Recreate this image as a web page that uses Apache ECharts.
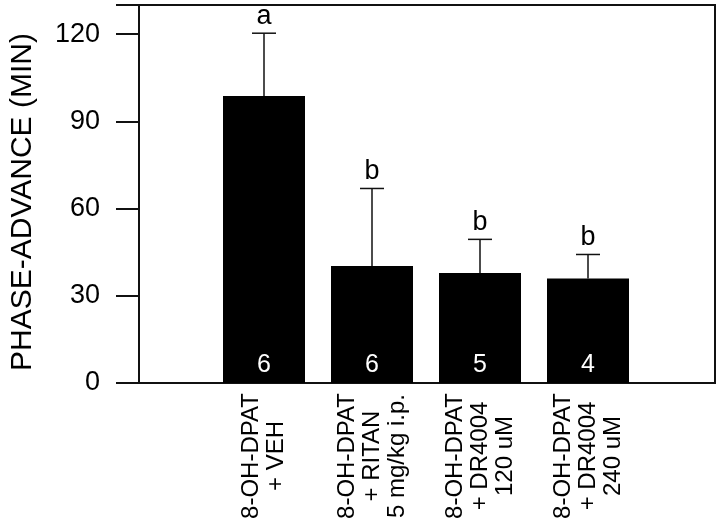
<!DOCTYPE html>
<html>
<head>
<meta charset="utf-8">
<script src="https://cdn.jsdelivr.net/npm/echarts@6/dist/echarts.min.js"></script>
<style>
    html, body {margin: 0; padding: 0; background: #fff;}
    #chart_1 {width: 720px; height: 525px;}
</style>
</head>
<body>
<div id="chart_1"></div>
<script>
var groups = [
    '8-OH-DPAT\n+ VEH',
    '8-OH-DPAT\n+ RITAN\n5 mg/kg i.p.',
    '8-OH-DPAT\n+ DR4004\n120 uM',
    '8-OH-DPAT\n+ DR4004\n240 uM'
];
var means = [98.7, 40.2, 37.8, 35.9];
var errs = [21.6, 26.7, 11.6, 8.3];
var letters = ['a', 'b', 'b', 'b'];
var nCounts = [6, 6, 5, 4];
var yTicks = [0, 30, 60, 90, 120];

var font = 'Liberation Sans, Arial, Helvetica, sans-serif';
var ink = '#000';

var myChart = echarts.init(document.getElementById('chart_1'));
var option = {
    animation: false,
    backgroundColor: '#fff',
    grid: [
        // outer frame with the y axis
        {left: 128, right: 5, top: 5, bottom: 142, show: true, borderColor: '#111', borderWidth: 2},
        // inner grid carrying the bars
        {left: 210, right: 78, top: 5, bottom: 142}
    ],
    xAxis: [
        {
            gridIndex: 0, type: 'value', min: 0, max: 1,
            show: false
        },
        {
            gridIndex: 1, type: 'category', data: groups,
            axisLine: {show: false},
            axisTick: {show: false},
            axisLabel: {
                interval: 0,
                rotate: 90,
                margin: 8,
                color: ink,
                // each line centred inside a fixed-width box
                formatter: function (v) {
                    return v.split('\n').map(function (s) {
                        return '{w|' + s + '}';
                    }).join('\n');
                },
                rich: {
                    w: {
                        width: 130,
                        align: 'center',
                        fontFamily: font,
                        fontSize: 24,
                        lineHeight: 25,
                        color: ink
                    }
                }
            }
        }
    ],
    yAxis: [
        {
            gridIndex: 0, type: 'value', min: 0, max: 130, interval: 30,
            name: 'PHASE-ADVANCE (MIN)',
            nameLocation: 'middle',
            nameGap: 101,
            nameTextStyle: {fontFamily: font, fontSize: 30, color: ink, padding: [0, 16, 0, 0]},
            axisLine: {show: true, lineStyle: {color: '#111', width: 2}},
            axisTick: {show: true, length: 23, lineStyle: {color: '#111', width: 2}},
            axisLabel: {
                margin: 39,
                fontFamily: font,
                fontSize: 27,
                color: ink,
                formatter: function (v) {
                    return yTicks.indexOf(v) >= 0 ? String(v) : '';
                }
            },
            splitLine: {show: false}
        },
        {
            gridIndex: 1, type: 'value', min: 0, max: 130, interval: 30,
            show: false
        }
    ],
    series: [
        {
            type: 'bar',
            xAxisIndex: 1,
            yAxisIndex: 1,
            data: means,
            barWidth: 82,
            itemStyle: {color: '#000'},
            label: {
                show: true,
                position: 'insideBottom',
                distance: 5,
                color: '#fff',
                fontFamily: font,
                fontSize: 25,
                formatter: function (p) {
                    return String(nCounts[p.dataIndex]);
                }
            }
        },
        {
            type: 'custom',
            xAxisIndex: 1,
            yAxisIndex: 1,
            data: means.map(function (m, i) { return [i, m, m + errs[i]]; }),
            encode: {x: 0, y: [1, 2]},
            z: 3,
            renderItem: function (params, api) {
                var i = api.value(0);
                var base = api.coord([i, api.value(1)]);
                var top = api.coord([i, api.value(2)]);
                var half = 12;
                return {
                    type: 'group',
                    children: [
                        {
                            type: 'line',
                            shape: {x1: base[0], y1: base[1], x2: top[0], y2: top[1]},
                            style: {stroke: '#111', lineWidth: 1.5}
                        },
                        {
                            type: 'line',
                            shape: {x1: top[0] - half, y1: top[1], x2: top[0] + half, y2: top[1]},
                            style: {stroke: '#111', lineWidth: 1.5}
                        },
                        {
                            type: 'text',
                            x: top[0],
                            y: top[1] - 3,
                            style: {
                                text: letters[params.dataIndex],
                                fill: ink,
                                font: '27px ' + font,
                                textAlign: 'center',
                                textVerticalAlign: 'bottom'
                            }
                        }
                    ]
                };
            }
        }
    ]
};

myChart.setOption(option);
</script>
</body>
</html>
